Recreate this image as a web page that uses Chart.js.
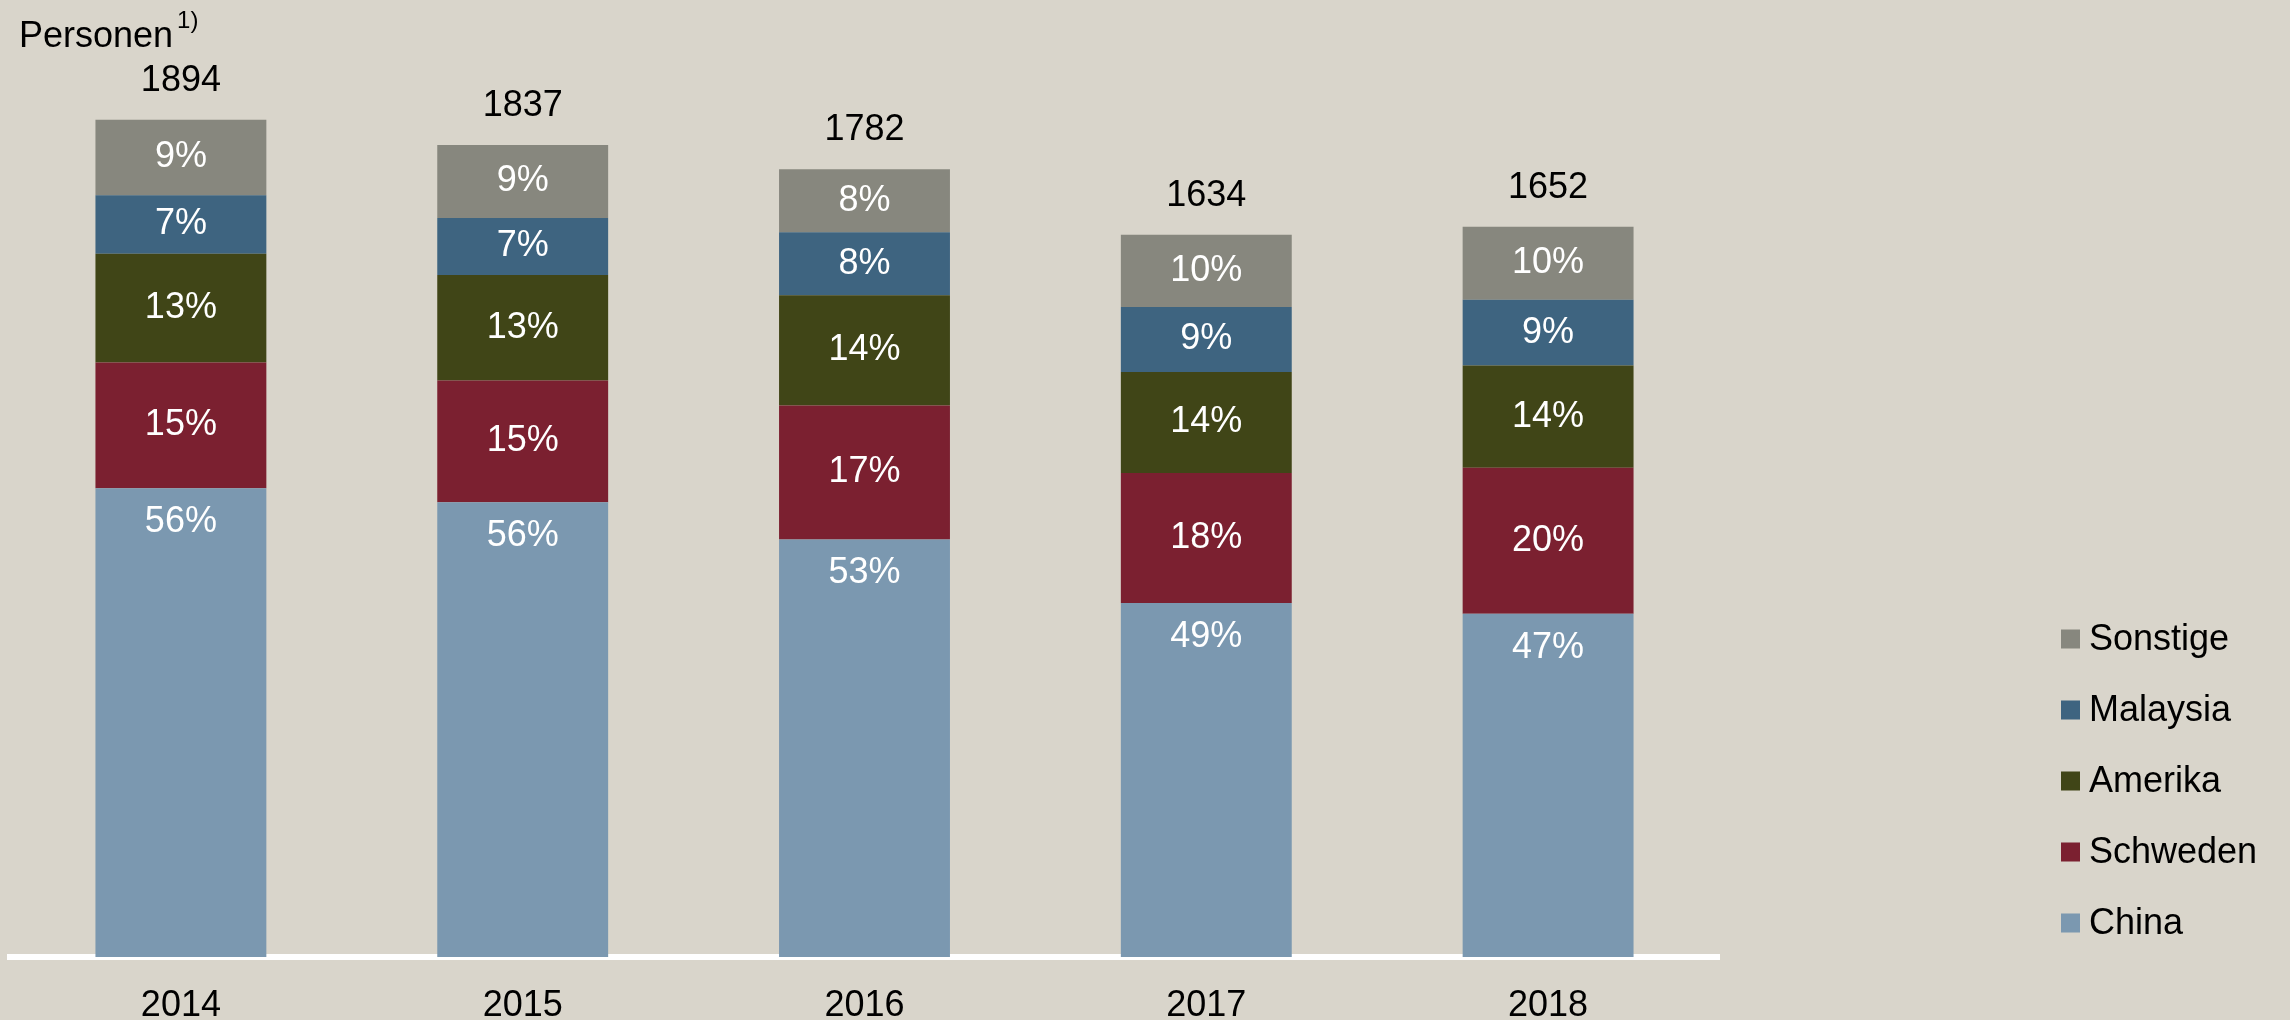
<!DOCTYPE html>
<html>
<head>
<meta charset="utf-8">
<script src="https://cdn.jsdelivr.net/npm/chart.js@4"></script>
<style>
  html, body { margin: 0; padding: 0; background: #d9d5cb; }
  #wrap { width: 2290px; height: 1020px; position: relative; }
</style>
</head>
<body>
<div id="wrap"><canvas id="myChart" width="2290" height="1020"></canvas></div>
<script>
const years = ['2014', '2015', '2016', '2017', '2018'];
const totals = [1894, 1837, 1782, 1634, 1652];

// Anteile in Prozent je Region
const china = [56, 56, 53, 49, 47];
const schweden = [15, 15, 17, 18, 20];
const amerika = [13, 13, 14, 14, 14];
const malaysia = [7, 7, 8, 9, 9];
const sonstige = [9, 9, 8, 10, 10];

const FONT = "'Liberation Sans', Arial, sans-serif";

function persons(pct) {
  return pct.map((p, i) => totals[i] * p / 100);
}

function ds(label, pct, color) {
  return {
    label: label,
    data: persons(pct),
    pct: pct,
    backgroundColor: color,
    borderWidth: 0,
    barPercentage: 0.5,
    categoryPercentage: 1
  };
}

const labelPlugin = {
  id: 'labels',
  afterDatasetsDraw(chart) {
    const ctx = chart.ctx;
    ctx.save();
    ctx.font = '36px ' + FONT;
    ctx.textAlign = 'center';
    ctx.textBaseline = 'middle';
    chart.data.datasets.forEach((d, di) => {
      const meta = chart.getDatasetMeta(di);
      meta.data.forEach((bar, i) => {
        const y = di === 0 ? bar.y + 34 : (bar.y + bar.base) / 2;
        ctx.fillStyle = '#ffffff';
        ctx.fillText(d.pct[i] + '%', bar.x, y);
      });
    });
    // Summen über den Balken
    const top = chart.getDatasetMeta(chart.data.datasets.length - 1);
    ctx.fillStyle = '#000000';
    top.data.forEach((bar, i) => {
      ctx.fillText(String(totals[i]), bar.x, bar.y - 39);
    });

    // Achsentitel
    ctx.textAlign = 'left';
    ctx.textBaseline = 'alphabetic';
    ctx.fillText('Personen', 19, 47);
    const w = ctx.measureText('Personen').width;
    ctx.font = '24px ' + FONT;
    ctx.fillText('1)', 19 + w + 4, 28);

    // Legende (umgekehrte Reihenfolge)
    ctx.font = '36px ' + FONT;
    ctx.textBaseline = 'middle';
    const items = chart.data.datasets.slice().reverse();
    items.forEach((d, k) => {
      const cy = 639 + k * 71;
      ctx.fillStyle = d.backgroundColor;
      ctx.fillRect(2061, cy - 9.5, 19, 19);
      ctx.fillStyle = '#000000';
      ctx.fillText(d.label, 2089, cy + 1);
    });
    ctx.restore();
  }
};

const ctx = document.getElementById('myChart');

new Chart(ctx, {
  type: 'bar',
  data: {
    labels: years,
    datasets: [
      ds('China', china, '#7b98b0'),
      ds('Schweden', schweden, '#7b2030'),
      ds('Amerika', amerika, '#404517'),
      ds('Malaysia', malaysia, '#3e6480'),
      ds('Sonstige', sonstige, '#87877e')
    ]
  },
  options: {
    responsive: false,
    animation: false,
    layout: {
      padding: { left: 10, right: 571, top: 0, bottom: 0 }
    },
    plugins: {
      legend: { display: false },
      tooltip: { enabled: false }
    },
    scales: {
      x: {
        stacked: true,
        z: 1,
        grid: { display: false },
        border: { display: true, color: '#ffffff', width: 6 },
        ticks: {
          color: '#000000',
          padding: 19,
          font: { family: FONT, size: 36 }
        },
        afterFit(scale) {
          scale.height = 63;
        }
      },
      y: {
        stacked: true,
        display: false,
        min: 0,
        max: 2165
      }
    }
  },
  plugins: [labelPlugin]
});
</script>
</body>
</html>
